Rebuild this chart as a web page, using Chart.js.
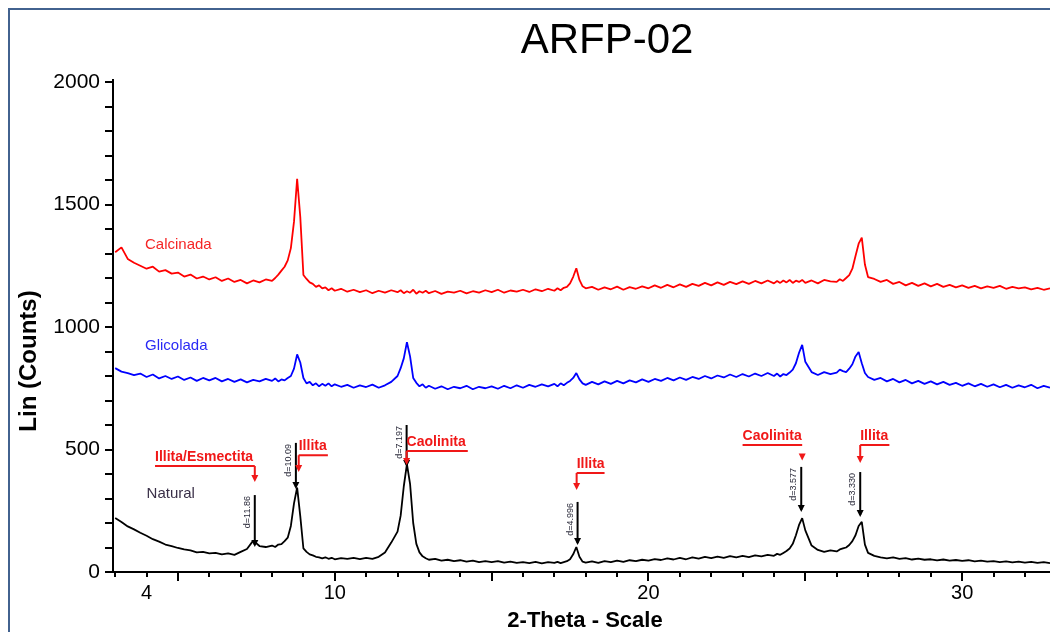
<!DOCTYPE html>
<html>
<head>
<meta charset="utf-8">
<title>ARFP-02</title>
<script src="https://cdn.jsdelivr.net/npm/chart.js@4.4.1/dist/chart.umd.min.js"></script>
<style>
  html, body { margin: 0; padding: 0; background: #fff; }
  canvas { display: block; }
</style>
</head>
<body>
<canvas id="xrdChart" width="1050" height="632"></canvas>
<script>
// 2-theta positions (deg), finer step around the peaks
const twoTheta = [
  3.0, 3.2, 3.4, 3.6, 3.8,
  4.0, 4.2, 4.4, 4.6, 4.8,
  5.0, 5.2, 5.4, 5.6, 5.8,
  6.0, 6.2, 6.4, 6.6, 6.8,
  7.0, 7.2, 7.4, 7.6, 7.8,
  8.0, 8.1, 8.2, 8.3, 8.4, 8.5, 8.6, 8.7, 8.8, 8.9,
  9.0, 9.1, 9.2, 9.3, 9.4, 9.5, 9.6, 9.7, 9.8, 9.9,
  10.0, 10.2, 10.4, 10.6, 10.8,
  11.0, 11.2, 11.4, 11.6, 11.8,
  12.0, 12.1, 12.2, 12.3, 12.4, 12.5, 12.6, 12.7, 12.8, 12.9,
  13.0, 13.2, 13.4, 13.6, 13.8,
  14.0, 14.2, 14.4, 14.6, 14.8,
  15.0, 15.2, 15.4, 15.6, 15.8,
  16.0, 16.2, 16.4, 16.6, 16.8,
  17.0, 17.1, 17.2, 17.3, 17.4, 17.5, 17.6, 17.7, 17.8, 17.9,
  18.0, 18.2, 18.4, 18.6, 18.8,
  19.0, 19.2, 19.4, 19.6, 19.8,
  20.0, 20.2, 20.4, 20.6, 20.8,
  21.0, 21.2, 21.4, 21.6, 21.8,
  22.0, 22.2, 22.4, 22.6, 22.8,
  23.0, 23.2, 23.4, 23.6, 23.8,
  24.0, 24.1, 24.2, 24.3, 24.4, 24.5, 24.6, 24.7, 24.8, 24.9,
  25.0, 25.2, 25.4, 25.6, 25.8,
  26.0, 26.1, 26.2, 26.3, 26.4, 26.5, 26.6, 26.7, 26.8, 26.9,
  27.0, 27.2, 27.4, 27.6, 27.8,
  28.0, 28.2, 28.4, 28.6, 28.8,
  29.0, 29.2, 29.4, 29.6, 29.8,
  30.0, 30.2, 30.4, 30.6, 30.8,
  31.0, 31.2, 31.4, 31.6, 31.8,
  32.0, 32.2, 32.4, 32.6, 32.8
];

const calcinada = [
  1305, 1325, 1278, 1262, 1250,
  1238, 1246, 1226, 1232, 1218,
  1222, 1206, 1214, 1198, 1206,
  1194, 1203, 1188, 1198, 1184,
  1192, 1178, 1190, 1182, 1194,
  1188, 1200, 1214, 1230, 1246, 1272, 1322, 1430, 1605, 1450,
  1212, 1196, 1182, 1176, 1164, 1170, 1158, 1162, 1150, 1158,
  1148, 1156, 1144, 1152, 1142,
  1150, 1138, 1148, 1140, 1150,
  1142, 1150, 1138, 1146, 1140, 1152, 1136, 1146, 1140, 1148,
  1138, 1147, 1135, 1144, 1140,
  1148, 1137, 1146, 1140, 1150,
  1142, 1152, 1140, 1149, 1144,
  1152, 1143, 1154, 1146, 1156,
  1148, 1158, 1150, 1160, 1164, 1178, 1205, 1240, 1192, 1166,
  1158, 1164, 1152, 1162, 1154,
  1165, 1152, 1163, 1156, 1166,
  1158, 1170, 1160, 1172, 1162,
  1174, 1164, 1176, 1168, 1180,
  1170, 1182, 1172, 1184, 1175,
  1186, 1176, 1188, 1178, 1190,
  1178, 1188, 1180, 1190, 1182, 1192, 1180, 1189, 1184, 1192,
  1180, 1190, 1178, 1192, 1186,
  1184, 1195, 1188, 1200, 1212, 1238, 1290, 1340, 1365, 1255,
  1204, 1196, 1184, 1192, 1176,
  1184, 1170, 1180, 1168, 1178,
  1166, 1176, 1164, 1172, 1162,
  1170, 1160, 1168, 1158, 1166,
  1160, 1168, 1156, 1164, 1158,
  1162, 1154, 1160, 1152, 1158
];

const glicolada = [
  832, 818, 812, 804, 810,
  796, 806, 790, 800, 788,
  798, 784, 794, 780, 792,
  782, 792, 778, 788, 776,
  786, 774, 784, 778, 788,
  780, 790, 778, 786, 782, 792, 800, 830, 888, 855,
  792, 770, 776, 762, 770, 758, 768, 760, 770, 758,
  766, 756, 764, 752, 762,
  755, 765, 752, 762, 776,
  800, 832, 872, 938, 880, 792, 772, 758, 766, 752,
  760, 748, 758, 746, 756,
  750, 760, 746, 756, 750,
  758, 748, 760, 750, 762,
  752, 764, 756, 766, 758,
  768, 758, 770, 762, 772, 780, 792, 812, 786, 770,
  764, 776, 766, 778, 768,
  780, 770, 782, 774, 786,
  776, 788, 780, 792, 782,
  794, 784, 796, 788, 800,
  790, 802, 794, 806, 796,
  808, 798, 810, 800, 812,
  800, 810, 798, 808, 804, 814, 826, 852, 895, 927,
  858, 816, 804, 816, 808,
  814, 826, 820, 816, 830, 848, 880, 898, 852, 812,
  796, 784, 792, 778, 788,
  774, 784, 770, 780, 768,
  778, 766, 776, 764, 772,
  760, 770, 758, 768, 756,
  766, 754, 764, 752, 762,
  754, 764, 750, 760, 752
];

const natural = [
  220, 204, 186, 174, 160,
  148, 134, 124, 112, 106,
  98, 92, 88, 80, 82,
  76, 78, 72, 76, 70,
  82, 94, 128, 106, 102,
  108, 102, 112, 114, 126, 140, 188, 280, 345, 228,
  96, 82, 72, 68, 62, 60, 56, 60, 54, 58,
  52, 57, 54, 58, 53,
  58, 54, 62, 80, 120,
  165, 230, 350, 440, 360, 200, 115, 80, 64, 56,
  50, 54, 46, 50, 44,
  48, 42, 46, 40, 44,
  40, 44, 38, 42, 37,
  40, 36, 41, 35, 40,
  37, 41, 36, 40, 44, 52, 72, 102, 62, 42,
  38, 43, 37, 44, 40,
  46, 41, 48, 44, 50,
  46, 53, 49, 56, 51,
  58, 52, 60, 55, 62,
  57, 63, 58, 65, 60,
  66, 61, 68, 64, 70,
  66, 74, 70, 78, 86, 96, 115, 150, 192, 220,
  170, 108, 90, 82, 88,
  84, 92, 96, 100, 110, 126, 150, 188, 205, 112,
  78, 66, 60, 56, 60,
  54, 57, 51, 55, 50,
  52, 47, 51, 46, 49,
  45, 48, 43, 46, 42,
  44, 40, 43, 39, 42,
  38, 41, 37, 40, 36
];

const seriesNames = ['Calcinada', 'Glicolada', 'Natural'];
const seriesColors = ['#ff0000', '#0000ff', '#000000'];
const nameColors = ['#f52525', '#2a2af5', '#3a3048'];
const nameAt = [[3.95, 1335], [3.95, 922], [4.0, 318]];   // [2theta, counts]

const xTickLabels = [4, 10, 20, 30];
const yTickLabels = [0, 500, 1000, 1500, 2000];

// d-spacing sticks on the Natural pattern
const stickX = [7.45, 8.76, 12.29, 17.74, 24.87, 26.75];
const stickBottom = [110, 347, 437, 118, 253, 233];
const stickTop = [314, 527, 600, 286, 429, 408];
const stickLabels = ['d=11.86', 'd=10.09', 'd=7.197', 'd=4.996', 'd=3.577', 'd=3.330'];

// mineral labels: text, underline from/to (2theta), underline level, arrow x, arrow start, arrow tip (counts)
const minerals = ['Illita/Esmectita', 'Illita', 'Caolinita', 'Illita', 'Caolinita', 'Illita'];
const mineralLine = [[4.27, 7.45], [8.85, 9.78], [12.29, 14.24], [17.71, 18.6], [23.0, 24.9], [26.75, 27.68]];
const mineralLevel = [433, 477, 494, 404, 518, 518];
const mineralArrowX = [7.45, 8.85, 12.29, 17.71, 24.9, 26.75];
const mineralArrowFrom = [433, 477, 494, 404, 478, 518];
const mineralArrowTip = [367, 408, 437, 335, 455, 445];

const FONT = '"Liberation Sans", Arial, Helvetica, sans-serif';

function arrowHead(c, x, y) {
  c.beginPath();
  c.moveTo(x - 3.5, y - 7);
  c.lineTo(x + 3.5, y - 7);
  c.lineTo(x, y);
  c.closePath();
  c.fill();
}

const xrdDecor = {
  id: 'xrdDecor',
  beforeDraw(chart) {
    const c = chart.ctx;
    c.save();
    c.fillStyle = '#fff';
    c.fillRect(0, 0, chart.width, chart.height);
    c.strokeStyle = '#42628f';
    c.lineWidth = 2;
    c.beginPath();
    c.moveTo(9, chart.height);
    c.lineTo(9, 9);
    c.lineTo(chart.width, 9);
    c.stroke();
    c.restore();
  },
  afterDatasetsDraw(chart) {
    const c = chart.ctx;
    const xs = chart.scales.x, ys = chart.scales.y;
    const px = v => xs.getPixelForValue(v);
    const py = v => ys.getPixelForValue(v);
    c.save();

    // series names
    c.font = '15px ' + FONT;
    c.textAlign = 'left';
    c.textBaseline = 'middle';
    seriesNames.forEach((n, i) => {
      c.fillStyle = nameColors[i];
      c.fillText(n, px(nameAt[i][0]), py(nameAt[i][1]));
    });

    // sticks + d labels
    c.strokeStyle = '#000';
    c.fillStyle = '#000';
    c.lineWidth = 2;
    stickX.forEach((t, i) => {
      const x = px(t);
      c.beginPath();
      c.moveTo(x, py(stickTop[i]));
      c.lineTo(x, py(stickBottom[i]));
      c.stroke();
      arrowHead(c, x, py(stickBottom[i]) + 2);
      c.save();
      c.translate(x - 3, py(stickTop[i]) + 1);
      c.rotate(-Math.PI / 2);
      c.font = '9px ' + FONT;
      c.fillStyle = '#2a2a3a';
      c.textAlign = 'right';
      c.textBaseline = 'bottom';
      c.fillText(stickLabels[i], 0, 0);
      c.restore();
    });

    // mineral labels
    c.strokeStyle = '#f01818';
    c.fillStyle = '#f01818';
    c.lineWidth = 2;
    c.font = 'bold 14px ' + FONT;
    c.textAlign = 'left';
    c.textBaseline = 'alphabetic';
    minerals.forEach((m, i) => {
      const x0 = px(mineralLine[i][0]), x1 = px(mineralLine[i][1]);
      const yl = py(mineralLevel[i]);
      c.fillText(m, x0, yl - 5);
      c.beginPath();
      c.moveTo(x0, yl);
      c.lineTo(x1, yl);
      const ax = px(mineralArrowX[i]);
      c.moveTo(ax, py(mineralArrowFrom[i]));
      c.lineTo(ax, py(mineralArrowTip[i]) - 5);
      c.stroke();
      arrowHead(c, ax, py(mineralArrowTip[i]));
    });
    c.restore();
  },
  afterDraw(chart) {
    const c = chart.ctx;
    const xs = chart.scales.x, ys = chart.scales.y;
    const area = chart.chartArea;
    c.save();
    c.strokeStyle = '#000';
    c.lineWidth = 2;
    c.beginPath();
    for (let v = 3; v <= 32; v++) {
      const x = Math.round(xs.getPixelForValue(v));
      const len = v % 5 === 0 ? 9 : 5;
      c.moveTo(x, area.bottom);
      c.lineTo(x, area.bottom + len);
    }
    for (let v = 0; v <= 2000; v += 100) {
      const y = Math.round(ys.getPixelForValue(v));
      c.moveTo(area.left, y);
      c.lineTo(area.left - 8, y);
    }
    // axis runs a little past the top tick
    c.moveTo(area.left, area.top);
    c.lineTo(area.left, area.top - 3);
    c.stroke();

    c.fillStyle = '#000';
    c.textAlign = 'center';
    c.textBaseline = 'alphabetic';
    c.font = '42px ' + FONT;
    c.fillText('ARFP-02', 607, 53);

    c.font = 'bold 22px ' + FONT;
    c.textBaseline = 'middle';
    c.fillText('2-Theta - Scale', 585, 621);

    c.translate(29, 361);
    c.rotate(-Math.PI / 2);
    c.font = 'bold 24px ' + FONT;
    c.fillText('Lin (Counts)', 0, 0);
    c.restore();
  }
};

const ctx = document.getElementById('xrdChart');
new Chart(ctx, {
  type: 'line',
  data: {
    datasets: [calcinada, glicolada, natural].map((vals, i) => ({
      label: seriesNames[i],
      data: twoTheta.map((t, j) => ({ x: t, y: vals[j] })),
      borderColor: seriesColors[i],
      borderWidth: 1.8,
      pointRadius: 0,
      tension: 0,
      fill: false,
      borderJoinStyle: 'bevel'
    }))
  },
  options: {
    responsive: false,
    animation: false,
    layout: { padding: { top: 82, right: 0, left: 0, bottom: 0 } },
    plugins: {
      legend: { display: false },
      tooltip: { enabled: false },
      title: { display: false }
    },
    scales: {
      x: {
        type: 'linear',
        min: 2.93,
        max: 32.8,
        afterBuildTicks: s => { s.ticks = xTickLabels.map(v => ({ value: v })); },
        afterFit: s => { s.height = 60; },
        ticks: {
          color: '#000', font: { family: FONT, size: 20 }, padding: 9, maxRotation: 0, autoSkip: false,
          callback: v => String(v)
        },
        grid: { display: false, drawTicks: false },
        border: { display: true, color: '#000', width: 2 }
      },
      y: {
        min: 0,
        max: 2000,
        afterBuildTicks: s => { s.ticks = yTickLabels.map(v => ({ value: v })); },
        afterFit: s => { s.width = 113; },
        ticks: {
          color: '#000', font: { family: FONT, size: 21 }, padding: 13,
          callback: v => String(v)
        },
        grid: { display: false, drawTicks: false },
        border: { display: true, color: '#000', width: 2 }
      }
    }
  },
  plugins: [xrdDecor]
});
</script>
</body>
</html>
